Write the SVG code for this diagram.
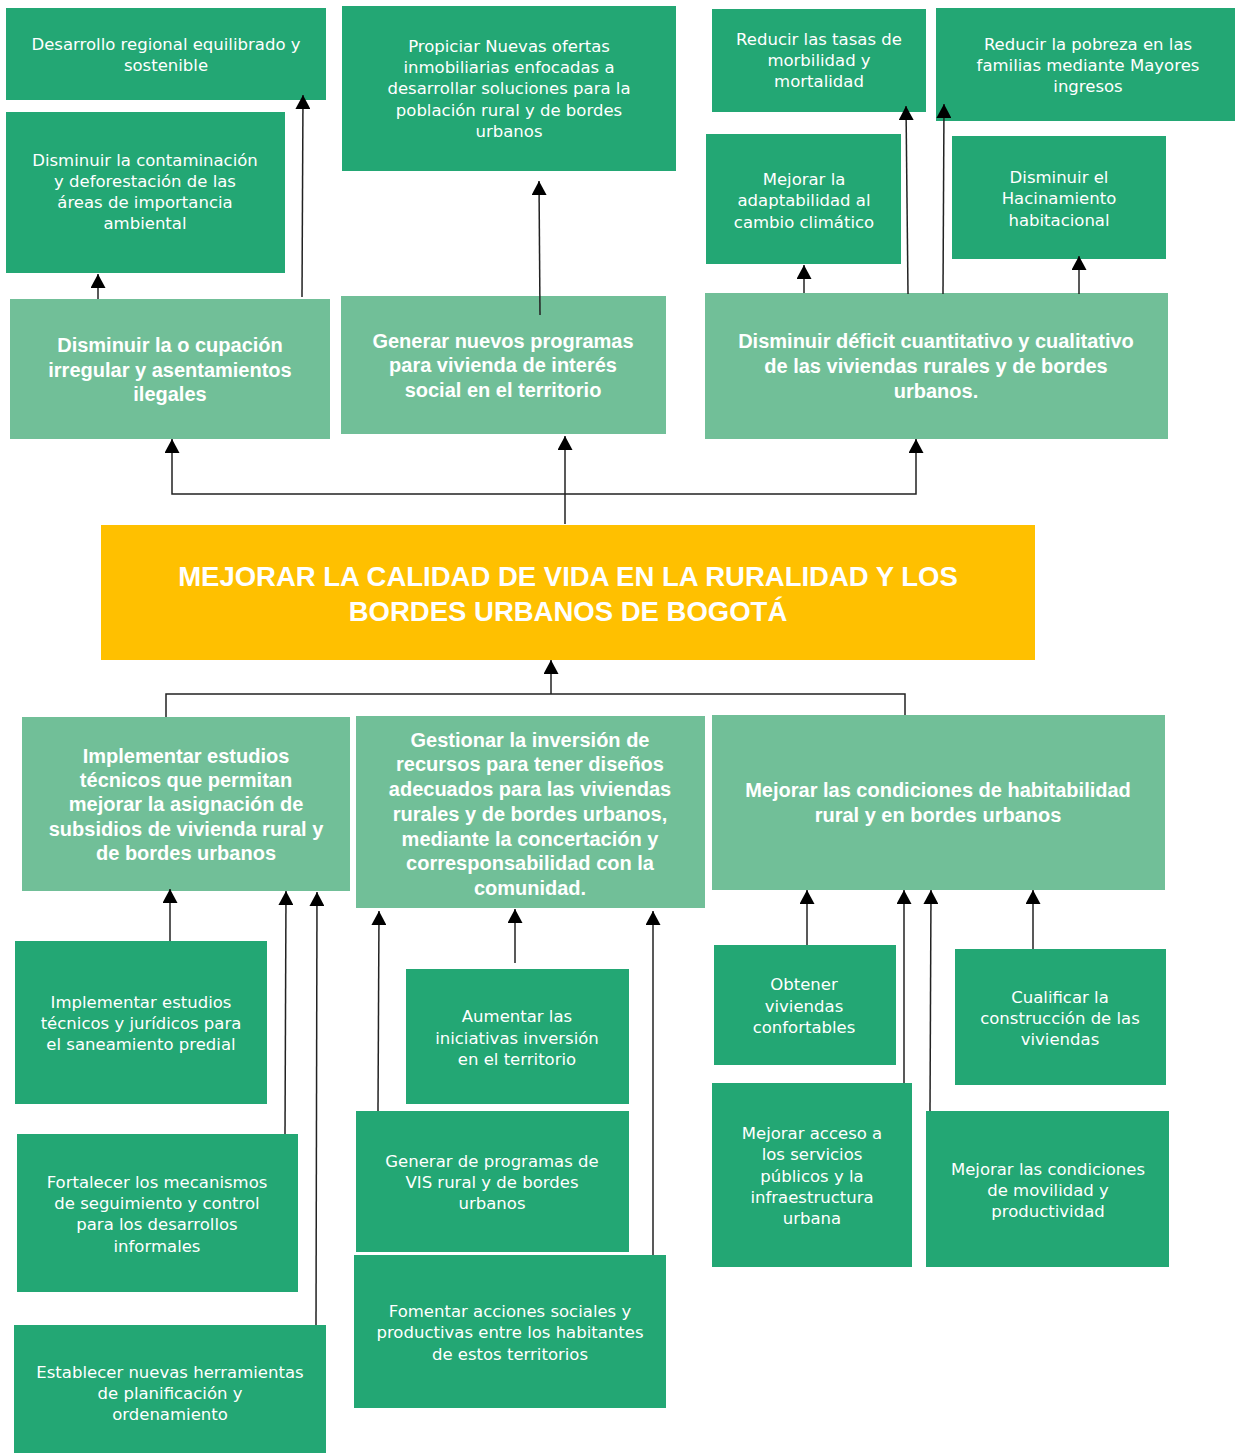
<svg xmlns="http://www.w3.org/2000/svg" width="1235" height="1453" viewBox="0 0 1235 1453">
<defs>
<style>
.d{fill:#23A774}
.l{fill:#71BF98}
.y{fill:#FFC000}
.t{font-family:"DejaVu Sans","Liberation Sans",sans-serif;font-size:16.5px;fill:#fff;text-anchor:middle}
.b{font-family:"Liberation Sans",Arial,sans-serif;font-size:20px;font-weight:bold;fill:#fff;text-anchor:middle}
.m{font-family:"Liberation Sans",Arial,sans-serif;font-size:27.5px;font-weight:bold;fill:#fff;text-anchor:middle}
.c{fill:none;stroke:#222;stroke-width:1.5}
.a{marker-end:url(#ah)}
</style>
<marker id="ah" viewBox="0 0 14 15" refX="14" refY="7.5" markerWidth="14" markerHeight="15" markerUnits="userSpaceOnUse" orient="auto">
<path d="M0,0 L14,7.5 L0,15 z" fill="#000"/>
</marker>
</defs>
<rect width="1235" height="1453" fill="#fff"/>

<g id="n-desarrollo"><rect class="d" x="6" y="8" width="320" height="92"/>
<text class="t"><tspan x="166" y="50">Desarrollo regional equilibrado y</tspan><tspan x="166" y="71">sostenible</tspan></text></g>

<g id="n-contaminacion"><rect class="d" x="6" y="112" width="279" height="161"/>
<text class="t"><tspan x="145" y="166">Disminuir la contaminación</tspan><tspan x="145" y="187">y deforestación de las</tspan><tspan x="145" y="208">áreas de importancia</tspan><tspan x="145" y="229">ambiental</tspan></text></g>

<g id="n-ocupacion"><rect class="l" x="10" y="299" width="320" height="140"/>
<text class="b"><tspan x="170" y="352">Disminuir la o cupación</tspan><tspan x="170" y="377">irregular y asentamientos</tspan><tspan x="170" y="401">ilegales</tspan></text></g>

<g id="n-propiciar"><rect class="d" x="342" y="6" width="334" height="165"/>
<text class="t"><tspan x="509" y="52">Propiciar Nuevas ofertas</tspan><tspan x="509" y="73">inmobiliarias enfocadas a</tspan><tspan x="509" y="94">desarrollar soluciones para la</tspan><tspan x="509" y="116">población rural y de bordes</tspan><tspan x="509" y="137">urbanos</tspan></text></g>

<g id="n-generar"><rect class="l" x="341" y="296" width="325" height="138"/>
<text class="b"><tspan x="503" y="348">Generar nuevos programas</tspan><tspan x="503" y="372">para vivienda de interés</tspan><tspan x="503" y="397">social en el territorio</tspan></text></g>

<g id="n-tasas"><rect class="d" x="712" y="9" width="214" height="103"/>
<text class="t"><tspan x="819" y="45">Reducir las tasas de</tspan><tspan x="819" y="66">morbilidad y</tspan><tspan x="819" y="87">mortalidad</tspan></text></g>

<g id="n-pobreza"><rect class="d" x="936" y="8" width="299" height="113"/>
<text class="t"><tspan x="1088" y="50">Reducir la pobreza en las</tspan><tspan x="1088" y="71">familias mediante Mayores</tspan><tspan x="1088" y="92">ingresos</tspan></text></g>

<g id="n-adaptabilidad"><rect class="d" x="706" y="134" width="195" height="130"/>
<text class="t"><tspan x="804" y="185">Mejorar la</tspan><tspan x="804" y="206">adaptabilidad al</tspan><tspan x="804" y="228">cambio climático</tspan></text></g>

<g id="n-hacinamiento"><rect class="d" x="952" y="136" width="214" height="123"/>
<text class="t"><tspan x="1059" y="183">Disminuir el</tspan><tspan x="1059" y="204">Hacinamiento</tspan><tspan x="1059" y="226">habitacional</tspan></text></g>

<g id="n-deficit"><rect class="l" x="705" y="293" width="463" height="146"/>
<text class="b"><tspan x="936" y="348">Disminuir déficit cuantitativo y cualitativo</tspan><tspan x="936" y="373">de las viviendas rurales y de bordes</tspan><tspan x="936" y="398">urbanos.</tspan></text></g>

<g id="n-central"><rect class="y" x="101" y="525" width="934" height="135"/>
<text class="m"><tspan x="568" y="586">MEJORAR LA CALIDAD DE VIDA EN LA RURALIDAD Y LOS</tspan><tspan x="568" y="621">BORDES URBANOS DE BOGOTÁ</tspan></text></g>

<g id="n-estudios"><rect class="l" x="22" y="717" width="328" height="174"/>
<text class="b"><tspan x="186" y="763">Implementar estudios</tspan><tspan x="186" y="787">técnicos que permitan</tspan><tspan x="186" y="811">mejorar la asignación de</tspan><tspan x="186" y="836">subsidios de vivienda rural y</tspan><tspan x="186" y="860">de bordes urbanos</tspan></text></g>

<g id="n-gestionar"><rect class="l" x="356" y="716" width="349" height="192"/>
<text class="b"><tspan x="530" y="747">Gestionar la inversión de</tspan><tspan x="530" y="771">recursos para tener diseños</tspan><tspan x="530" y="796">adecuados para las viviendas</tspan><tspan x="530" y="821">rurales y de bordes urbanos,</tspan><tspan x="530" y="846">mediante la concertación y</tspan><tspan x="530" y="870">corresponsabilidad con la</tspan><tspan x="530" y="895">comunidad.</tspan></text></g>

<g id="n-habitabilidad"><rect class="l" x="712" y="715" width="453" height="175"/>
<text class="b"><tspan x="938" y="797">Mejorar las condiciones de habitabilidad</tspan><tspan x="938" y="822">rural y en bordes urbanos</tspan></text></g>

<g id="n-saneamiento"><rect class="d" x="15" y="941" width="252" height="163"/>
<text class="t"><tspan x="141" y="1008">Implementar estudios</tspan><tspan x="141" y="1029">técnicos y jurídicos para</tspan><tspan x="141" y="1050">el saneamiento predial</tspan></text></g>

<g id="n-fortalecer"><rect class="d" x="17" y="1134" width="281" height="158"/>
<text class="t"><tspan x="157" y="1188">Fortalecer los mecanismos</tspan><tspan x="157" y="1209">de seguimiento y control</tspan><tspan x="157" y="1230">para los desarrollos</tspan><tspan x="157" y="1252">informales</tspan></text></g>

<g id="n-establecer"><rect class="d" x="14" y="1325" width="312" height="128"/>
<text class="t"><tspan x="170" y="1378">Establecer nuevas herramientas</tspan><tspan x="170" y="1399">de planificación y</tspan><tspan x="170" y="1420">ordenamiento</tspan></text></g>

<g id="n-aumentar"><rect class="d" x="406" y="969" width="223" height="135"/>
<text class="t"><tspan x="517" y="1022">Aumentar las</tspan><tspan x="517" y="1044">iniciativas inversión</tspan><tspan x="517" y="1065">en el territorio</tspan></text></g>

<g id="n-vis"><rect class="d" x="356" y="1111" width="273" height="141"/>
<text class="t"><tspan x="492" y="1167">Generar de programas de</tspan><tspan x="492" y="1188">VIS rural y de bordes</tspan><tspan x="492" y="1209">urbanos</tspan></text></g>

<g id="n-fomentar"><rect class="d" x="354" y="1255" width="312" height="153"/>
<text class="t"><tspan x="510" y="1317">Fomentar acciones sociales y</tspan><tspan x="510" y="1338">productivas entre los habitantes</tspan><tspan x="510" y="1360">de estos territorios</tspan></text></g>

<g id="n-obtener"><rect class="d" x="714" y="945" width="182" height="120"/>
<text class="t"><tspan x="804" y="990">Obtener</tspan><tspan x="804" y="1012">viviendas</tspan><tspan x="804" y="1033">confortables</tspan></text></g>

<g id="n-cualificar"><rect class="d" x="955" y="949" width="211" height="136"/>
<text class="t"><tspan x="1060" y="1003">Cualificar la</tspan><tspan x="1060" y="1024">construcción de las</tspan><tspan x="1060" y="1045">viviendas</tspan></text></g>

<g id="n-acceso"><rect class="d" x="712" y="1083" width="200" height="184"/>
<text class="t"><tspan x="812" y="1139">Mejorar acceso a</tspan><tspan x="812" y="1160">los servicios</tspan><tspan x="812" y="1182">públicos y la</tspan><tspan x="812" y="1203">infraestructura</tspan><tspan x="812" y="1224">urbana</tspan></text></g>

<g id="n-movilidad"><rect class="d" x="926" y="1111" width="243" height="156"/>
<text class="t"><tspan x="1048" y="1175">Mejorar las condiciones</tspan><tspan x="1048" y="1196">de movilidad y</tspan><tspan x="1048" y="1217">productividad</tspan></text></g>

<g id="connectors">
<path class="c a" d="M98,299 V274"/>
<path class="c a" d="M302,297 L303,95"/>
<path class="c a" d="M540,315 L539,181"/>
<path class="c a" d="M804,293 V265"/>
<path class="c a" d="M908,294 L906,106"/>
<path class="c a" d="M943,294 L944,104"/>
<path class="c a" d="M1079,294 V256"/>
<path class="c a" d="M565,524 V436"/>
<path class="c a" d="M565,494 H172 V439"/>
<path class="c a" d="M565,494 H916 V439"/>
<path class="c" d="M166,717 V694 H905 V715"/>
<path class="c a" d="M551,694 V660"/>
<path class="c a" d="M170,941 V889"/>
<path class="c a" d="M285,1134 L286,891"/>
<path class="c a" d="M316,1325 L317,892"/>
<path class="c a" d="M378,1111 L379,911"/>
<path class="c a" d="M515,963 V909"/>
<path class="c a" d="M653,1255 V911"/>
<path class="c a" d="M807,945 V890"/>
<path class="c a" d="M904,1083 V890"/>
<path class="c a" d="M930,1111 L931,890"/>
<path class="c a" d="M1033,949 V890"/>
</g>
</svg>
